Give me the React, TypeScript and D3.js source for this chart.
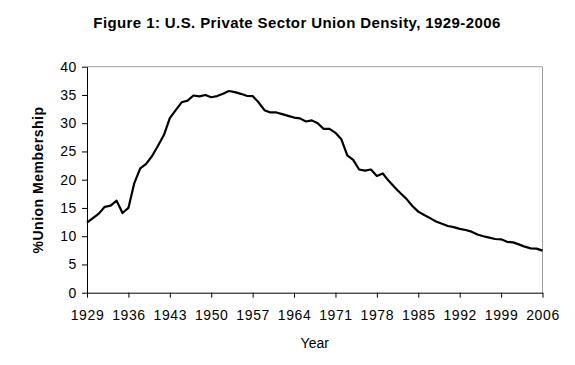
import React, { useRef, useEffect } from "react";
import * as d3 from "d3";

// union membership, % of private sector workers, 1929-2006
const years: number[] = d3.range(1929, 2007);
const density: number[] = [
  12.4, 13.2, 14.0, 15.2, 15.4, 16.3, 14.1, 15.0, 19.4, 22.0,
  22.8, 24.2, 26.0, 27.9, 30.9, 32.3, 33.7, 34.0, 34.9, 34.75,
  35.0, 34.6, 34.8, 35.2, 35.7, 35.5, 35.2, 34.85, 34.8, 33.7,
  32.3, 31.9, 31.9, 31.6, 31.3, 31.0, 30.85, 30.3, 30.5, 30.0,
  29.0, 29.0, 28.3, 27.15, 24.3, 23.5, 21.8, 21.6, 21.8, 20.65,
  21.1, 19.8, 18.65, 17.6, 16.6, 15.35, 14.35, 13.75, 13.2, 12.6,
  12.2, 11.8, 11.6, 11.3, 11.1, 10.8, 10.3, 10.0, 9.75, 9.5,
  9.45, 9.0, 8.9, 8.55, 8.15, 7.85, 7.8, 7.45,
];
const xTicks: number[] = [1929, 1936, 1943, 1950, 1957, 1964, 1971, 1978, 1985, 1992, 1999, 2006];
const yTicks: number[] = [0, 5, 10, 15, 20, 25, 30, 35, 40];

const title = "Figure 1: U.S. Private Sector Union Density, 1929-2006";
const xTitle = "Year";
const yTitle = "%Union Membership";

const W = 575;
const H = 365;
const left = 87;
const right = 542.5;
const top = 66.7;
const bottom = 292.7;
const font = "'Liberation Sans', Arial, sans-serif";

const App = () => {
  const svgRef = useRef<SVGSVGElement>(null);

  useEffect(() => {
    const svg = d3.select(svgRef.current);
    svg.selectAll("*").remove();

    const x = d3.scaleLinear().domain([1929, 2006]).range([left, right]);
    const y = d3.scaleLinear().domain([0, 40]).range([bottom, top]);

    // plot area frame (grey top / right)
    svg
      .append("path")
      .attr("d", `M${left},${top}H${right}V${bottom}`)
      .attr("fill", "none")
      .attr("stroke", "#a0a0a0")
      .attr("stroke-width", 1);

    // x axis
    const xAxis = svg
      .append("g")
      .attr("transform", `translate(0,${bottom})`)
      .call(
        d3
          .axisBottom(x)
          .tickValues(xTicks)
          .tickFormat(d3.format("d"))
          .tickSizeInner(5)
          .tickSizeOuter(0)
          .tickPadding(12)
      );
    xAxis.select(".domain").attr("stroke", "#000");
    xAxis.selectAll("line").attr("stroke", "#000");
    xAxis
      .selectAll("text")
      .attr("font-family", font)
      .attr("font-size", 14)
      .attr("letter-spacing", 0.6)
      .attr("fill", "#000");

    // y axis
    const yAxis = svg
      .append("g")
      .attr("transform", `translate(${left},0)`)
      .call(
        d3
          .axisLeft(y)
          .tickValues(yTicks)
          .tickSizeInner(5)
          .tickSizeOuter(0)
          .tickPadding(5)
      );
    yAxis.select(".domain").attr("stroke", "#000");
    yAxis.selectAll("line").attr("stroke", "#000");
    yAxis
      .selectAll("text")
      .attr("font-family", font)
      .attr("font-size", 14)
      .attr("letter-spacing", 0.6)
      .attr("fill", "#000");

    // line
    const line = d3
      .line<number>()
      .x((d, i) => x(years[i]))
      .y((d) => y(d));

    svg
      .append("path")
      .datum(density)
      .attr("d", line)
      .attr("fill", "none")
      .attr("stroke", "#000")
      .attr("stroke-width", 2.2)
      .attr("stroke-linejoin", "round");

    // titles
    svg
      .append("text")
      .attr("x", 297)
      .attr("y", 28)
      .attr("text-anchor", "middle")
      .attr("font-family", font)
      .attr("font-size", 15)
      .attr("font-weight", "bold")
      .attr("letter-spacing", 0.4)
      .text(title);

    svg
      .append("text")
      .attr("x", (left + right) / 2)
      .attr("y", 348)
      .attr("text-anchor", "middle")
      .attr("font-family", font)
      .attr("font-size", 14)
      .text(xTitle);

    svg
      .append("text")
      .attr("transform", `translate(43,180) rotate(-90)`)
      .attr("text-anchor", "middle")
      .attr("font-family", font)
      .attr("font-size", 14)
      .attr("font-weight", "bold")
      .attr("letter-spacing", 0.5)
      .text(yTitle);
  }, []);

  return (
    <svg
      ref={svgRef}
      width={W}
      height={H}
      style={{ position: "absolute", left: 0, top: 0, background: "#fff" }}
    />
  );
};

export default App;
